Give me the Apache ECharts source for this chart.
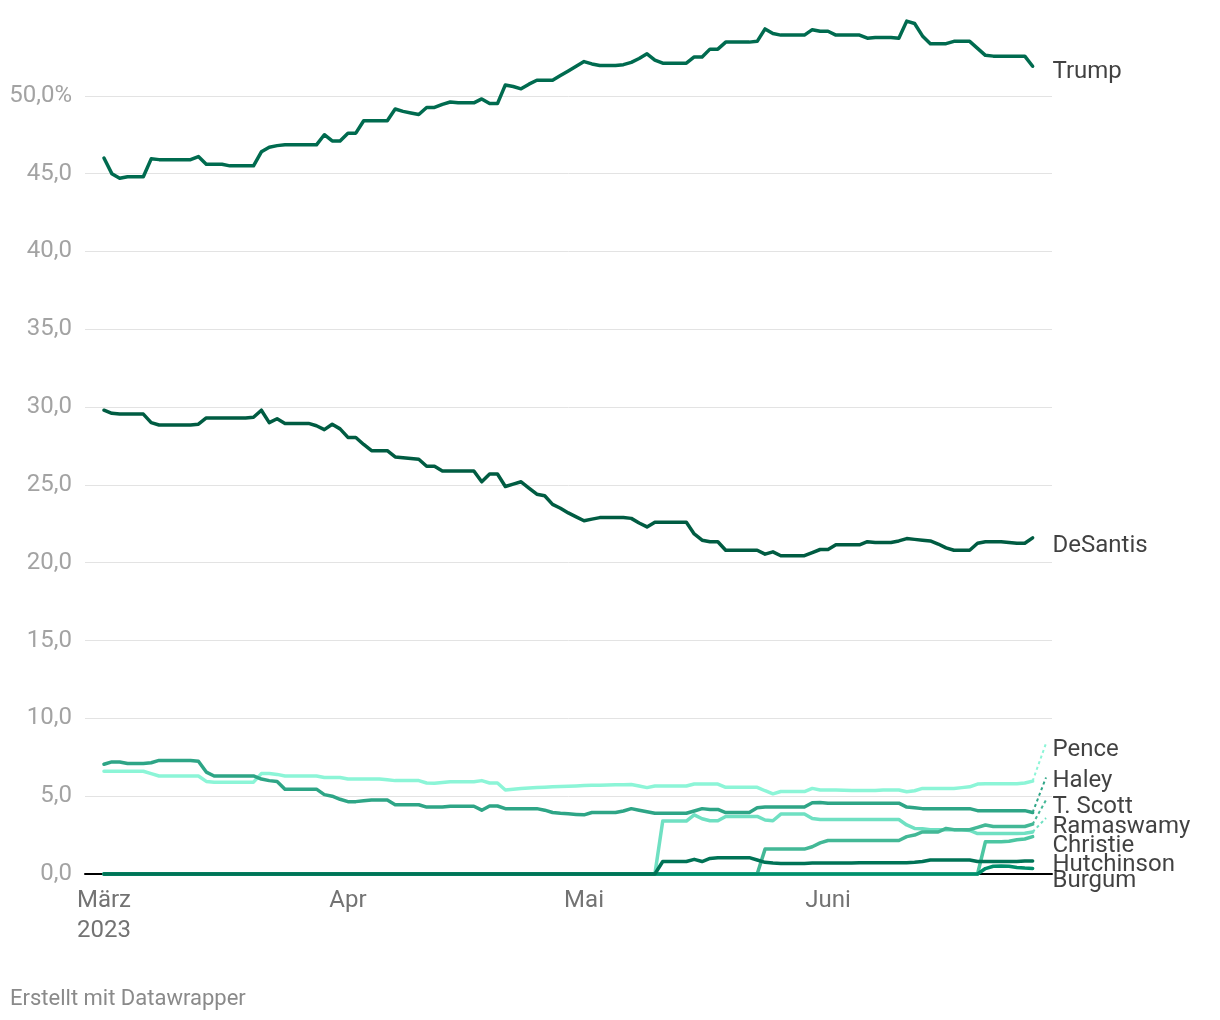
<!DOCTYPE html>
<html><head><meta charset="utf-8">
<script src="https://cdn.jsdelivr.net/npm/echarts@6/dist/echarts.min.js"></script>
<style>html,body{margin:0;padding:0;background:#fff}#c{width:1220px;height:1020px}</style>
</head><body><div id="c"></div>
<script>
// x = days since 1 March 2023 (daily polling averages, 1 Mar – 27 Jun 2023)
const monthTickDays = [0, 31, 61, 92];
const monthTickLabels = ['März\n2023', 'Apr', 'Mai', 'Juni'];
const yTickValues = [0, 5, 10, 15, 20, 25, 30, 35, 40, 45, 50];

const trump = [
  46.0, 45.0, 44.7, 44.8, 44.8, 44.8, 45.95, 45.9, 45.9, 45.9,
  45.9, 45.9, 46.1, 45.6, 45.6, 45.6, 45.5, 45.5, 45.5, 45.5,
  46.4, 46.7, 46.8, 46.85, 46.85, 46.85, 46.85, 46.85, 47.5, 47.1,
  47.1, 47.6, 47.6, 48.4, 48.4, 48.4, 48.4, 49.15, 49.0, 48.9,
  48.8, 49.25, 49.25, 49.45, 49.6, 49.55, 49.55, 49.55, 49.8, 49.5,
  49.5, 50.7, 50.6, 50.45, 50.75, 51.0, 51.0, 51.0, 51.3, 51.6,
  51.9, 52.2, 52.05, 51.95, 51.95, 51.95, 52.0, 52.15, 52.4, 52.7,
  52.3, 52.1, 52.1, 52.1, 52.1, 52.5, 52.5, 53.0, 53.0, 53.45,
  53.45, 53.45, 53.45, 53.5, 54.3, 54.0, 53.9, 53.9, 53.9, 53.9,
  54.25, 54.15, 54.15, 53.9, 53.9, 53.9, 53.9, 53.7, 53.75, 53.75,
  53.75, 53.7, 54.8, 54.65, 53.85, 53.35, 53.35, 53.35, 53.5, 53.5,
  53.5, 53.05, 52.6, 52.55, 52.55, 52.55, 52.55, 52.55, 51.9
];
const desantis = [
  29.8, 29.6, 29.55, 29.55, 29.55, 29.55, 29.0, 28.85, 28.85, 28.85,
  28.85, 28.85, 28.9, 29.3, 29.3, 29.3, 29.3, 29.3, 29.3, 29.35,
  29.8, 29.0, 29.25, 28.95, 28.95, 28.95, 28.95, 28.8, 28.55, 28.9,
  28.6, 28.05, 28.05, 27.6, 27.2, 27.2, 27.2, 26.8, 26.75, 26.7,
  26.65, 26.2, 26.2, 25.9, 25.9, 25.9, 25.9, 25.9, 25.2, 25.7,
  25.7, 24.9, 25.05, 25.2, 24.8, 24.4, 24.3, 23.75, 23.5, 23.2,
  22.95, 22.7, 22.8, 22.9, 22.9, 22.9, 22.9, 22.85, 22.55, 22.3,
  22.6, 22.6, 22.6, 22.6, 22.6, 21.85, 21.45, 21.35, 21.35, 20.8,
  20.8, 20.8, 20.8, 20.8, 20.55, 20.7, 20.45, 20.45, 20.45, 20.45,
  20.65, 20.85, 20.85, 21.15, 21.15, 21.15, 21.15, 21.35, 21.3, 21.3,
  21.3, 21.4, 21.55, 21.5, 21.45, 21.4, 21.2, 20.95, 20.8, 20.8,
  20.8, 21.25, 21.35, 21.35, 21.35, 21.3, 21.25, 21.25, 21.6
];
const pence = [
  6.6, 6.6, 6.6, 6.6, 6.6, 6.6, 6.45, 6.3, 6.3, 6.3,
  6.3, 6.3, 6.3, 5.95, 5.9, 5.9, 5.9, 5.9, 5.9, 5.9,
  6.45, 6.45, 6.4, 6.3, 6.3, 6.3, 6.3, 6.3, 6.2, 6.2,
  6.2, 6.1, 6.1, 6.1, 6.1, 6.1, 6.05, 6.0, 6.0, 6.0,
  6.0, 5.85, 5.83, 5.88, 5.93, 5.93, 5.93, 5.93, 6.0, 5.85,
  5.85, 5.4, 5.45, 5.5, 5.52, 5.55, 5.57, 5.6, 5.62, 5.64,
  5.66, 5.68, 5.7, 5.7, 5.72, 5.73, 5.74, 5.75, 5.65, 5.55,
  5.65, 5.65, 5.65, 5.65, 5.65, 5.78, 5.78, 5.78, 5.78, 5.57,
  5.57, 5.57, 5.57, 5.57, 5.35, 5.15, 5.3, 5.3, 5.3, 5.3,
  5.5, 5.4, 5.4, 5.4, 5.38, 5.36, 5.36, 5.36, 5.36, 5.4,
  5.4, 5.4, 5.28, 5.35, 5.5, 5.5, 5.5, 5.5, 5.5, 5.55,
  5.6, 5.78, 5.8, 5.8, 5.8, 5.8, 5.8, 5.85, 5.97
];
const haley = [
  7.05, 7.2, 7.2, 7.1, 7.1, 7.1, 7.15, 7.3, 7.3, 7.3,
  7.3, 7.3, 7.25, 6.55, 6.3, 6.3, 6.3, 6.3, 6.3, 6.3,
  6.1, 6.0, 5.95, 5.45, 5.45, 5.45, 5.45, 5.45, 5.1, 5.0,
  4.8, 4.65, 4.65, 4.7, 4.75, 4.75, 4.75, 4.45, 4.45, 4.45,
  4.45, 4.3, 4.3, 4.3, 4.35, 4.35, 4.35, 4.35, 4.1, 4.37,
  4.37, 4.2, 4.2, 4.2, 4.2, 4.2, 4.1, 3.95, 3.9, 3.87,
  3.83, 3.8, 3.95, 3.95, 3.95, 3.95, 4.05, 4.2, 4.1, 4.0,
  3.9, 3.9, 3.9, 3.9, 3.9, 4.05, 4.2, 4.15, 4.15, 3.95,
  3.95, 3.95, 3.95, 4.25, 4.3, 4.3, 4.3, 4.3, 4.3, 4.3,
  4.58, 4.6, 4.55, 4.55, 4.55, 4.55, 4.55, 4.55, 4.55, 4.55,
  4.55, 4.55, 4.3, 4.25, 4.2, 4.2, 4.2, 4.2, 4.2, 4.2,
  4.2, 4.07, 4.07, 4.07, 4.07, 4.07, 4.07, 4.07, 3.95
];
const tScott = [
  0, 0, 0, 0, 0, 0, 0, 0, 0, 0,
  0, 0, 0, 0, 0, 0, 0, 0, 0, 0,
  0, 0, 0, 0, 0, 0, 0, 0, 0, 0,
  0, 0, 0, 0, 0, 0, 0, 0, 0, 0,
  0, 0, 0, 0, 0, 0, 0, 0, 0, 0,
  0, 0, 0, 0, 0, 0, 0, 0, 0, 0,
  0, 0, 0, 0, 0, 0, 0, 0, 0, 0,
  0, 0, 0, 0, 0, 0, 0, 0, 0, 0,
  0, 0, 0, 0, 1.6, 1.6, 1.6, 1.6, 1.6, 1.6,
  1.75, 2.0, 2.15, 2.15, 2.15, 2.15, 2.15, 2.15, 2.15, 2.15,
  2.15, 2.15, 2.4, 2.5, 2.7, 2.7, 2.7, 2.93, 2.85, 2.85,
  2.85, 3.0, 3.15, 3.05, 3.05, 3.05, 3.05, 3.05, 3.2
];
const ramaswamy = [
  0, 0, 0, 0, 0, 0, 0, 0, 0, 0,
  0, 0, 0, 0, 0, 0, 0, 0, 0, 0,
  0, 0, 0, 0, 0, 0, 0, 0, 0, 0,
  0, 0, 0, 0, 0, 0, 0, 0, 0, 0,
  0, 0, 0, 0, 0, 0, 0, 0, 0, 0,
  0, 0, 0, 0, 0, 0, 0, 0, 0, 0,
  0, 0, 0, 0, 0, 0, 0, 0, 0, 0,
  0, 3.4, 3.4, 3.4, 3.4, 3.8, 3.55, 3.42, 3.42, 3.7,
  3.7, 3.7, 3.7, 3.7, 3.47, 3.42, 3.85, 3.85, 3.85, 3.85,
  3.57, 3.5, 3.5, 3.5, 3.5, 3.5, 3.5, 3.5, 3.5, 3.5,
  3.5, 3.5, 3.15, 2.93, 2.9, 2.85, 2.85, 2.85, 2.85, 2.85,
  2.8, 2.6, 2.6, 2.6, 2.6, 2.6, 2.6, 2.62, 2.7
];
const christie = [
  0, 0, 0, 0, 0, 0, 0, 0, 0, 0,
  0, 0, 0, 0, 0, 0, 0, 0, 0, 0,
  0, 0, 0, 0, 0, 0, 0, 0, 0, 0,
  0, 0, 0, 0, 0, 0, 0, 0, 0, 0,
  0, 0, 0, 0, 0, 0, 0, 0, 0, 0,
  0, 0, 0, 0, 0, 0, 0, 0, 0, 0,
  0, 0, 0, 0, 0, 0, 0, 0, 0, 0,
  0, 0, 0, 0, 0, 0, 0, 0, 0, 0,
  0, 0, 0, 0, 0, 0, 0, 0, 0, 0,
  0, 0, 0, 0, 0, 0, 0, 0, 0, 0,
  0, 0, 0, 0, 0, 0, 0, 0, 0, 0,
  0, 0, 2.07, 2.07, 2.07, 2.1, 2.2, 2.25, 2.4
];
const hutchinson = [
  0, 0, 0, 0, 0, 0, 0, 0, 0, 0,
  0, 0, 0, 0, 0, 0, 0, 0, 0, 0,
  0, 0, 0, 0, 0, 0, 0, 0, 0, 0,
  0, 0, 0, 0, 0, 0, 0, 0, 0, 0,
  0, 0, 0, 0, 0, 0, 0, 0, 0, 0,
  0, 0, 0, 0, 0, 0, 0, 0, 0, 0,
  0, 0, 0, 0, 0, 0, 0, 0, 0, 0,
  0, 0.8, 0.8, 0.8, 0.8, 0.94, 0.8, 1.0, 1.05, 1.05,
  1.05, 1.05, 1.05, 0.9, 0.75, 0.7, 0.68, 0.68, 0.68, 0.68,
  0.7, 0.7, 0.7, 0.7, 0.7, 0.7, 0.72, 0.72, 0.72, 0.72,
  0.73, 0.73, 0.73, 0.75, 0.8, 0.9, 0.9, 0.9, 0.9, 0.9,
  0.9, 0.8, 0.8, 0.8, 0.8, 0.8, 0.8, 0.84, 0.84
];
const burgum = [
  0, 0, 0, 0, 0, 0, 0, 0, 0, 0,
  0, 0, 0, 0, 0, 0, 0, 0, 0, 0,
  0, 0, 0, 0, 0, 0, 0, 0, 0, 0,
  0, 0, 0, 0, 0, 0, 0, 0, 0, 0,
  0, 0, 0, 0, 0, 0, 0, 0, 0, 0,
  0, 0, 0, 0, 0, 0, 0, 0, 0, 0,
  0, 0, 0, 0, 0, 0, 0, 0, 0, 0,
  0, 0, 0, 0, 0, 0, 0, 0, 0, 0,
  0, 0, 0, 0, 0, 0, 0, 0, 0, 0,
  0, 0, 0, 0, 0, 0, 0, 0, 0, 0,
  0, 0, 0, 0, 0, 0, 0, 0, 0, 0,
  0, 0, 0.35, 0.5, 0.52, 0.5, 0.42, 0.38, 0.36
];

// Direct labels at the right edge (value positions after collision avoidance)
const labelNames  = ['Trump', 'DeSantis', 'Pence', 'Haley', 'T. Scott', 'Ramaswamy', 'Christie', 'Hutchinson', 'Burgum'];
const labelValues = [51.55, 21.05, 7.95, 6.0, 4.33, 3.05, 1.83, 0.6, -0.42];
// Dotted leader lines from line end to label
const connectorNames = ['Pence', 'Haley', 'T. Scott', 'Ramaswamy'];
const connectorTops  = [8.4, 6.2, 4.75, 3.6];

const X_MIN = -2.41, X_MAX = 120.46, LAST_DAY = 118, CONNECTOR_DAY = 119.7;
const FONT = 'Roboto, "Noto Sans", sans-serif';

const seriesDefs = [
  { name: 'Pence', data: pence, color: '#8cf5d7' },
  { name: 'Ramaswamy', data: ramaswamy, color: '#6fe0c2' },
  { name: 'T. Scott', data: tScott, color: '#43b896' },
  { name: 'Christie', data: christie, color: '#4cc6a2' },
  { name: 'Haley', data: haley, color: '#2ea586' },
  { name: 'Burgum', data: burgum, color: '#008f6c' },
  { name: 'Hutchinson', data: hutchinson, color: '#007356' },
  { name: 'DeSantis', data: desantis, color: '#005c42' },
  { name: 'Trump', data: trump, color: '#006b4f' }
];
const colorOf = {};
seriesDefs.forEach(d => colorOf[d.name] = d.color);
const dataOf = {};
seriesDefs.forEach(d => dataOf[d.name] = d.data);

const series = [];
seriesDefs.forEach((d, k) => {
  series.push({
    type: 'line', name: d.name,
    data: d.data.map((v, i) => [i, v]),
    showSymbol: false, symbol: 'none', silent: true, clip: false,
    lineStyle: { color: d.color, width: 3.5, join: 'round', cap: 'round' },
    itemStyle: { color: d.color },
    z: 3 + k
  });
});
connectorNames.forEach((n, i) => {
  const vals = dataOf[n];
  series.push({
    type: 'line', name: n + ' leader',
    data: [[LAST_DAY, vals[vals.length - 1]], [CONNECTOR_DAY, connectorTops[i]]],
    showSymbol: false, symbol: 'none', silent: true, clip: false,
    lineStyle: { color: colorOf[n], width: 2, type: [3, 3] },
    z: 2
  });
});
series.push({
  type: 'scatter', name: 'labels', silent: true, clip: false,
  symbolSize: 1, itemStyle: { color: 'rgba(0,0,0,0)' },
  data: labelNames.map((n, i) => ({ name: n, value: [X_MAX, labelValues[i]] })),
  label: { show: true, position: 'right', distance: 0, formatter: '{b}',
           color: '#111111', fontSize: 24, fontFamily: FONT },
  z: 20
});

const chart = echarts.init(document.getElementById('c'), null, { renderer: 'canvas' });
chart.setOption({
  animation: false,
  backgroundColor: '#ffffff',
  grid: { left: 85, right: 168, top: 18, bottom: 146, containLabel: false },
  xAxis: {
    type: 'value', min: X_MIN, max: X_MAX,
    splitLine: { show: false },
    axisTick: { show: false },
    axisLine: { show: true, onZero: true, lineStyle: { color: '#000000', width: 2 } },
    axisLabel: {
      customValues: monthTickDays,
      formatter: v => monthTickLabels[monthTickDays.indexOf(v)] || '',
      color: '#737373', fontSize: 24, lineHeight: 30, margin: 12, fontFamily: FONT
    }
  },
  yAxis: {
    type: 'value', min: 0, max: 55, interval: 5,
    axisLine: { show: false }, axisTick: { show: false },
    splitLine: { show: true, showMaxLine: false, lineStyle: { color: '#e3e3e3', width: 1 } },
    axisLabel: {
      customValues: yTickValues,
      formatter: v => (v === 50 ? '50,0%' : v.toFixed(1).replace('.', ',')),
      color: '#a3a3a3', fontSize: 24, margin: 13, fontFamily: FONT, padding: [7, 0, 0, 0]
    }
  },
  graphic: [{
    type: 'text', left: 10, top: 988,
    style: { text: 'Erstellt mit Datawrapper', fill: '#8a8a8a', fontSize: 22, fontFamily: FONT }
  }],
  series: series
});
</script>
</body></html>
